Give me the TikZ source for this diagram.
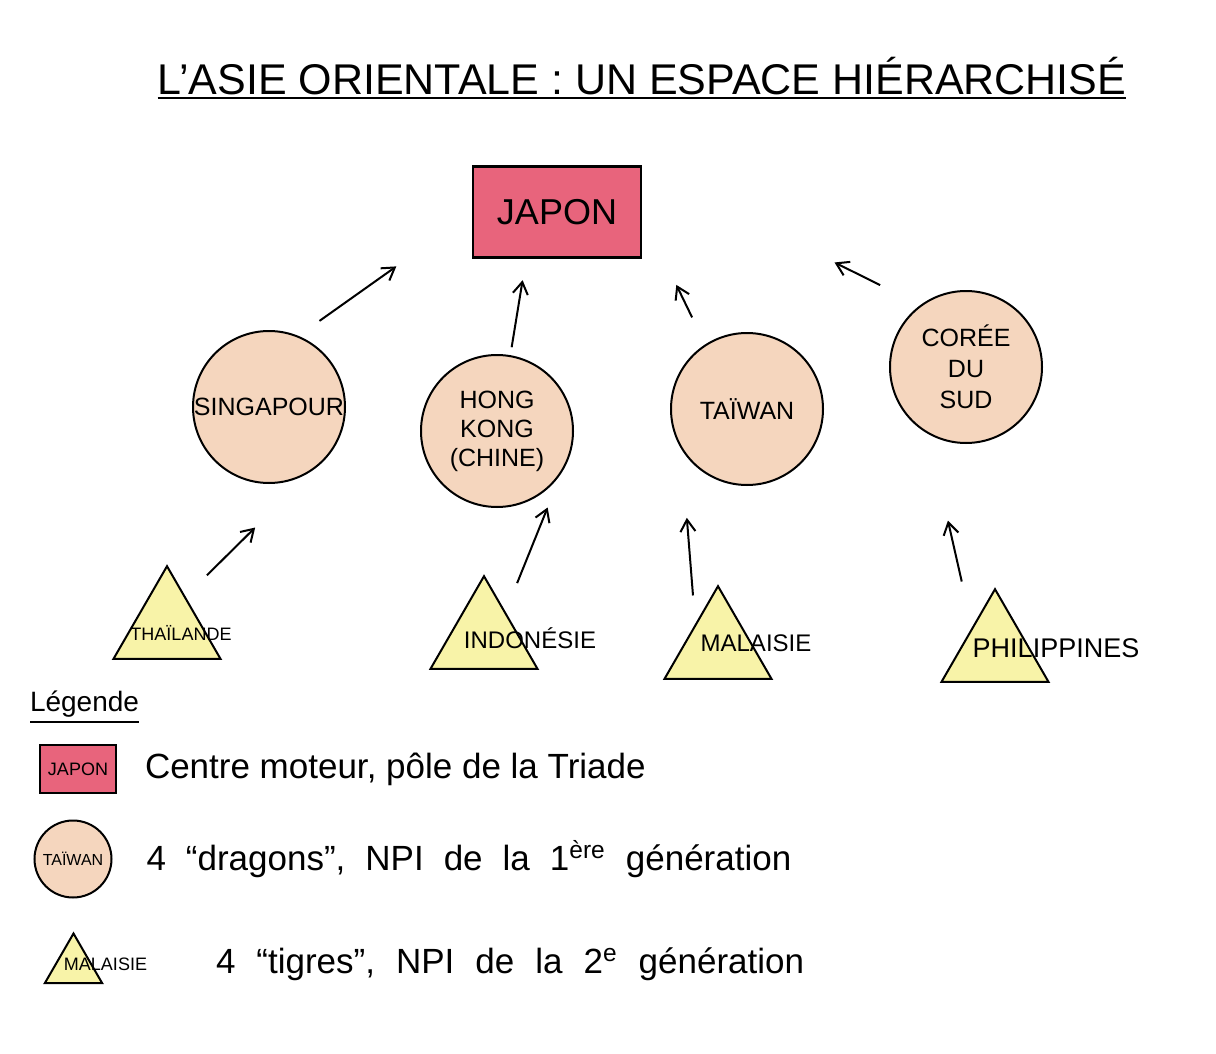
\documentclass[tikz,border=0pt]{standalone}
\usepackage{fontspec}
\setmainfont{Liberation Sans}
\usetikzlibrary{positioning,shapes.geometric,arrows.meta}

\definecolor{japonred}{RGB}{232,100,124}
\definecolor{dragonpeach}{RGB}{245,214,190}
\definecolor{tigreyellow}{RGB}{248,243,168}
\newcommand{\setfs}[2]{\fontsize{#1}{#2}\selectfont}

\begin{document}
\begin{tikzpicture}
[x=0.5pt,y=-0.5pt,
 every node/.style={inner sep=0pt,outer sep=0pt},
 pole/.style={rectangle,draw=black,line width=1.4pt,fill=japonred},
 dragon/.style={circle,draw=black,line width=1pt,fill=dragonpeach,align=center,font=\setfs{12.5}{14.5}},
 tigre/.style={regular polygon,regular polygon sides=3,minimum size=61.8pt,draw=black,line width=1pt,fill=tigreyellow},
 tigrelbl/.style={font=\setfs{12}{14}},
 flow/.style={line width=1pt,-{Straight Barb[length=6pt,width=7.5pt]}},
 legtext/.style={anchor=west,font=\setfs{17.5}{20}}]
\useasboundingbox (0,0) rectangle (1216,1054);
% titre
\node[font=\setfs{21.5}{24},anchor=south,inner ysep=1.5pt] (title) at (642,98) {L’ASIE ORIENTALE : UN ESPACE HIÉRARCHISÉ};
\draw[line width=1.4pt] (title.south west) -- (title.south east);
% centre, dragons, tigres
\node[pole,minimum width=84pt,minimum height=45.5pt,font=\setfs{18}{20}] (japon) at (557,212) {JAPON};
\node[dragon,minimum size=76pt] (sing)  [on grid,below  left=97.5pt and 144pt of japon] {SINGAPOUR};
\node[dragon,minimum size=76pt] (hk)    [on grid,below  left=109.5pt and 30pt of japon] {HONG\\KONG\\(CHINE)};
\node[dragon,minimum size=76pt] (tai)   [on grid,below right=98.5pt and 95pt of japon]  {TAÏWAN};
\node[dragon,minimum size=76pt,font=\setfs{12.5}{15.5}] (coree) [on grid,below right=77.5pt and 204.5pt of japon] {CORÉE\\DU\\SUD};
\node[tigre] (thai) [on grid,below  left=110.5pt and 51pt of sing]  {};
\node[tigre] (indo) [on grid,below  left=103.5pt and 6.5pt of hk]   {};
\node[tigre] (mal)  [on grid,below  left=119.5pt and 14.5pt of tai] {};
\node[tigre] (phil) [on grid,below right=142pt and 14.5pt of coree] {};
\node[tigrelbl,font=\setfs{9}{10}]      (thaiL) [on grid,below right=2.5pt and 7pt of thai]  {THAÏLANDE};
\node[tigrelbl]                         (indoL) [on grid,right=23pt of indo]                  {INDONÉSIE};
\node[tigrelbl]                         (malL)  [on grid,above right=2.5pt and 19pt of mal]   {MALAISIE};
\node[tigrelbl,font=\setfs{13.5}{15}]   (philL) [on grid,above right=1.5pt and 30.5pt of phil] {PHILIPPINES};
\path[flow] (sing.68)   edge[shorten <=13.5pt,shorten >=47pt]  (japon.west);
\path[flow] (hk.80)     edge[shorten <=4.5pt,shorten >=11.5pt]  (japon.236);
\path[flow] (tai.123)   edge[shorten <=15.5pt,shorten >=40.5pt] (japon.east);
\path[flow] (coree.126) edge[shorten <=23pt,shorten >=108pt]    (japon.north east);
\path[flow] (thai.60)   edge[shorten <=15.5pt,shorten >=47.5pt] (sing.-45);
\path[flow] (indo.50)   edge[shorten <=16pt,shorten >=22pt]     (hk.-28);
\path[flow] (mal.135)   edge[shorten <=15pt,shorten >=35.5pt]   (tai.-150);
\path[flow] (phil.135)  edge[shorten <=24pt,shorten >=45pt]     (coree.-120);
% legende
\node[font=\setfs{14}{16},anchor=south west,inner ysep=2.5pt] (leg) at (30,722) {Légende};
\draw[line width=1.4pt] (leg.south west) -- (leg.south east);
\node[pole,minimum width=38pt,minimum height=24pt,font=\setfs{9}{10}] (keyJ) at (78,769) {JAPON};
\node[dragon,minimum size=38.5pt,font=\setfs{8}{9}] (keyD) at (73,859) {TAÏWAN};
\node[tigre,minimum size=33pt] (keyT) at (73.5,966.5) {};
\node[font=\setfs{9}{10}] (keyTL) [on grid,above right=1pt and 16pt of keyT] {MALAISIE};
\node[legtext] (txtJ) [right=14.5pt of keyJ]  {Centre moteur, pôle de la Triade};
\node[legtext] (txtD) [right=17.5pt of keyD]  {\spaceskip=10pt 4 “dragons”, NPI de la 1\textsuperscript{ère} génération};
\node[legtext] (txtT) [right=34.5pt of keyTL] {\spaceskip=10.5pt 4 “tigres”, NPI de la 2\textsuperscript{e} génération};
\end{tikzpicture}
\end{document}
